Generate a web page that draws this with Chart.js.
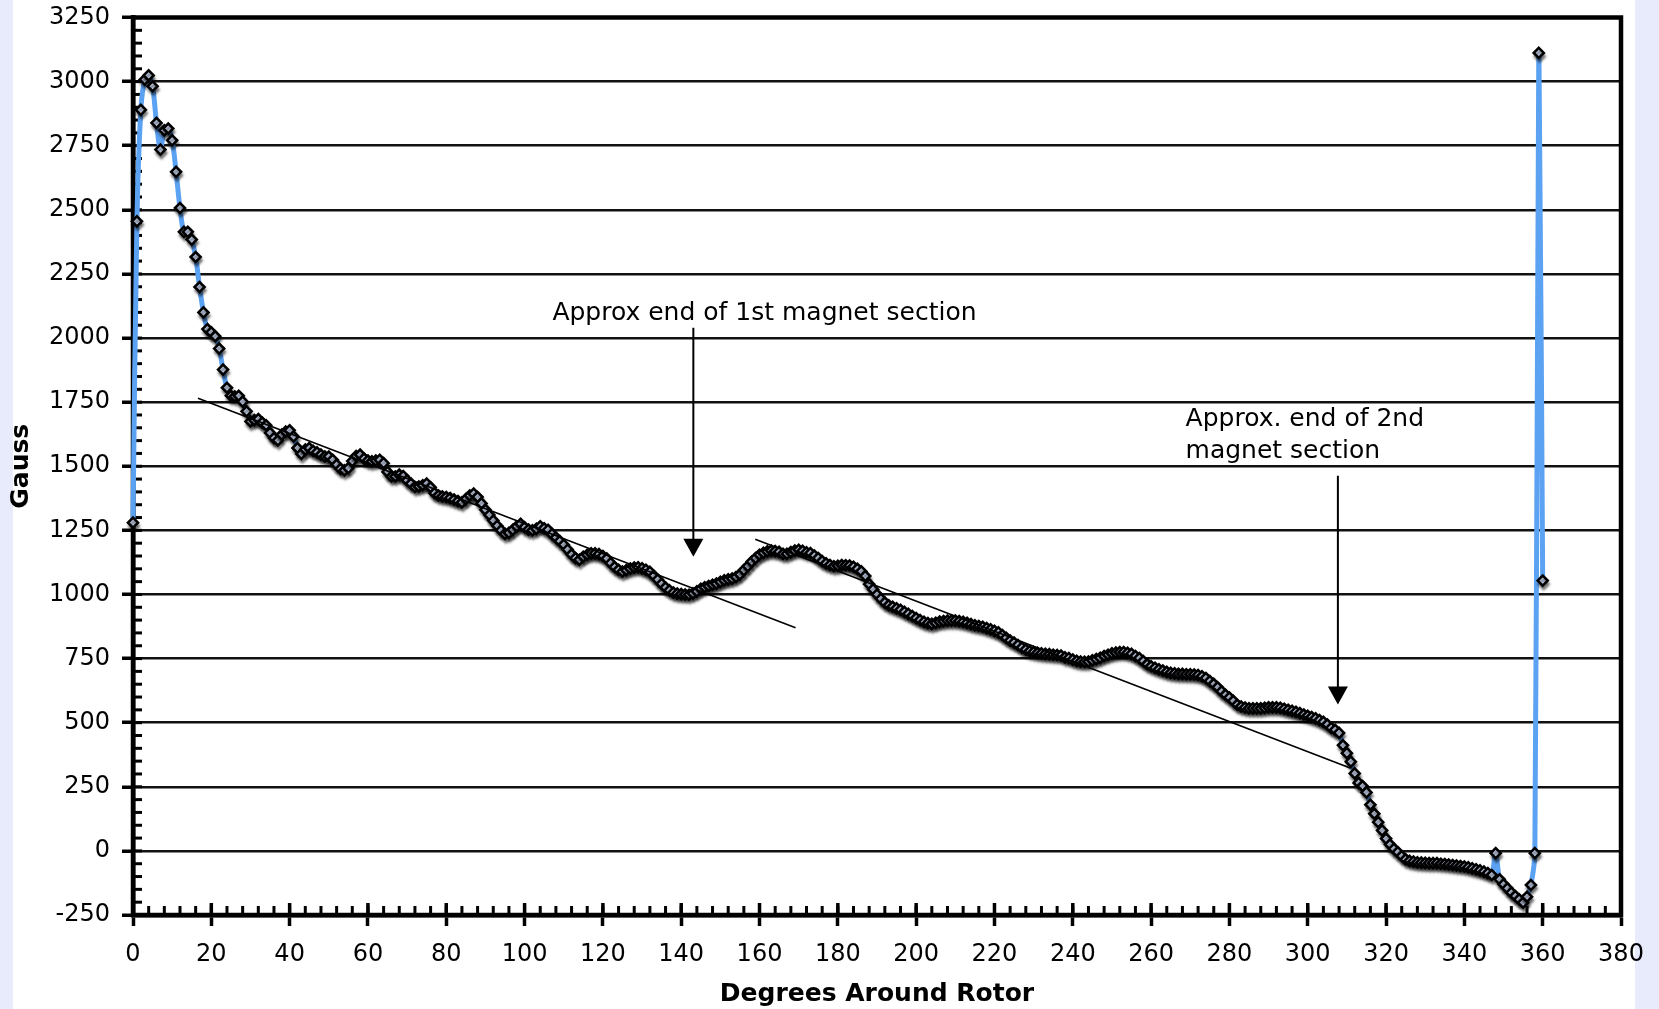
<!DOCTYPE html>
<html>
<head>
<meta charset="utf-8">
<title>Gauss around rotor</title>
<script src="https://cdn.jsdelivr.net/npm/chart.js@4.4.1/dist/chart.umd.min.js"></script>
<style>
  html, body { margin: 0; padding: 0; width: 1659px; height: 1009px; overflow: hidden; background: #E8EBFC; }
  #card { position: absolute; left: 13px; top: 0; width: 1622px; height: 1009px; background: #ffffff; }
  #chart { position: absolute; left: 0; top: 0; }
</style>
</head>
<body>
<div id="card"></div>
<canvas id="chart" width="1659" height="1009"></canvas>
<script>
// Measurement angle (degrees around the rotor)
const degrees = [
  0, 1, 2, 3, 4, 5, 6, 7, 8, 9, 10, 11, 12, 13, 14, 15, 16, 17, 18, 19,
  20, 21, 22, 23, 24, 25, 26, 27, 28, 29, 30, 31, 32, 33, 34, 35, 36, 37, 38, 39,
  40, 41, 42, 43, 44, 45, 46, 47, 48, 49, 50, 51, 52, 53, 54, 55, 56, 57, 58, 59,
  60, 61, 62, 63, 64, 65, 66, 67, 68, 69, 70, 71, 72, 73, 74, 75, 76, 77, 78, 79,
  80, 81, 82, 83, 84, 85, 86, 87, 88, 89, 90, 91, 92, 93, 94, 95, 96, 97, 98, 99,
  100, 101, 102, 103, 104, 105, 106, 107, 108, 109, 110, 111, 112, 113, 114, 115, 116, 117, 118, 119,
  120, 121, 122, 123, 124, 125, 126, 127, 128, 129, 130, 131, 132, 133, 134, 135, 136, 137, 138, 139,
  140, 141, 142, 143, 144, 145, 146, 147, 148, 149, 150, 151, 152, 153, 154, 155, 156, 157, 158, 159,
  160, 161, 162, 163, 164, 165, 166, 167, 168, 169, 170, 171, 172, 173, 174, 175, 176, 177, 178, 179,
  180, 181, 182, 183, 184, 185, 186, 187, 188, 189, 190, 191, 192, 193, 194, 195, 196, 197, 198, 199,
  200, 201, 202, 203, 204, 205, 206, 207, 208, 209, 210, 211, 212, 213, 214, 215, 216, 217, 218, 219,
  220, 221, 222, 223, 224, 225, 226, 227, 228, 229, 230, 231, 232, 233, 234, 235, 236, 237, 238, 239,
  240, 241, 242, 243, 244, 245, 246, 247, 248, 249, 250, 251, 252, 253, 254, 255, 256, 257, 258, 259,
  260, 261, 262, 263, 264, 265, 266, 267, 268, 269, 270, 271, 272, 273, 274, 275, 276, 277, 278, 279,
  280, 281, 282, 283, 284, 285, 286, 287, 288, 289, 290, 291, 292, 293, 294, 295, 296, 297, 298, 299,
  300, 301, 302, 303, 304, 305, 306, 307, 308, 309, 310, 311, 312, 313, 314, 315, 316, 317, 318, 319,
  320, 321, 322, 323, 324, 325, 326, 327, 328, 329, 330, 331, 332, 333, 334, 335, 336, 337, 338, 339,
  340, 341, 342, 343, 344, 345, 346, 347, 348, 349, 350, 351, 352, 353, 354, 355, 356, 357, 358, 359,
  360
];

// Flux density reading at each angle (Gauss)
const gauss = [
  1280, 2455, 2890, 3008, 3024, 2982, 2839, 2735, 2810, 2817,
  2771, 2648, 2507, 2414, 2414, 2384, 2316, 2199, 2100, 2035,
  2022, 2007, 1959, 1877, 1806, 1775, 1772, 1775, 1752, 1714,
  1675, 1680, 1684, 1670, 1660, 1630, 1610, 1601, 1623, 1635,
  1640, 1616, 1571, 1548, 1565, 1571, 1560, 1554, 1545, 1538,
  1538, 1525, 1506, 1490, 1484, 1493, 1520, 1540, 1545, 1530,
  1522, 1519, 1522, 1525, 1512, 1478, 1460, 1460, 1467, 1462,
  1445, 1432, 1419, 1421, 1426, 1432, 1418, 1395, 1386, 1382,
  1380, 1376, 1370, 1364, 1359, 1372, 1386, 1393, 1380, 1355,
  1330, 1310, 1288, 1268, 1250, 1236, 1240, 1252, 1265, 1275,
  1262, 1253, 1250, 1256, 1266, 1258, 1252, 1235, 1222, 1208,
  1194, 1175, 1156, 1142, 1135, 1147, 1155, 1160, 1160, 1157,
  1150, 1140, 1122, 1107, 1096, 1089, 1095, 1101, 1105, 1106,
  1102, 1096, 1088, 1073, 1058, 1041, 1027, 1016, 1007, 1003,
  1001, 1000, 999, 1004, 1012, 1022, 1028, 1033, 1038, 1042,
  1049, 1055, 1059, 1062, 1068, 1078, 1095, 1110, 1128, 1142,
  1155, 1162, 1168, 1171, 1169, 1166, 1158, 1158, 1165, 1171,
  1174, 1170, 1164, 1161, 1152, 1142, 1130, 1121, 1115, 1110,
  1112, 1115, 1114, 1113, 1108, 1100, 1090, 1072, 1040, 1020,
  1000, 983, 968, 958, 952, 946, 940, 932, 924, 916,
  908, 900, 893, 888, 885, 889, 894, 896, 898, 898,
  898, 896, 893, 889, 884, 880, 877, 874, 869, 864,
  858, 852, 842, 831, 820, 812, 803, 793, 785, 779,
  775, 772, 770, 768, 767, 765, 764, 762, 755, 752,
  746, 741, 738, 737, 738, 743, 748, 753, 760, 765,
  770, 773, 775, 775, 772, 768, 760, 752, 740, 728,
  720, 714, 708, 703, 698, 694, 692, 690, 690, 689,
  689, 688, 686, 681, 674, 662, 651, 638, 622, 609,
  598, 585, 570, 563, 559, 556, 556, 556, 556, 558,
  560, 560, 560, 558, 554, 550, 546, 542, 537, 532,
  527, 522, 517, 510, 503, 493, 480, 472, 460, 412,
  381, 348, 302, 265, 253, 228, 180, 145, 112, 80,
  48, 25, 8, -5, -20, -33, -39, -42, -45, -46,
  -47, -48, -48, -48, -50, -51, -53, -55, -57, -59,
  -61, -64, -68, -72, -76, -81, -87, -94, -9, -111,
  -130, -146, -163, -176, -189, -202, -179, -133, -9, 3112,
  1054
];

// Hand-drawn trend lines for the two magnet sections (end points, degrees / Gauss)
const trend1Deg = [16.6, 169.2];
const trend1Gauss = [1765, 870];
const trend2Deg = [158.9, 311.0];
const trend2Gauss = [1215, 322];

// Axis ranges and tick steps
const xRange = [0, 380];
const xMajorStep = 20;
const xMinorStep = 4;
const yRange = [-250, 3250];
const yMajorStep = 250;
const yMinorStep = 50;

// Callouts: text anchor and arrow, in degrees / Gauss
const noteTexts = [["Approx end of 1st magnet section"], ["Approx. end of 2nd", "magnet section"]];
const noteAnchorDeg = [107.1, 268.8];
const noteAnchorGauss = [2094, 1683];
const arrowDeg = [143.1, 307.7];
const arrowFromGauss = [2040, 1463];
const arrowToGauss = [1147, 571];

const toPoints = (xs, ys) => xs.map((v, i) => ({ x: v, y: ys[i] }));

Chart.defaults.font.family = "'DejaVu Sans', Verdana, sans-serif";
Chart.defaults.color = '#000';

// Frame, minor ticks, marker shadows and callouts
const rotorDecor = {
  id: 'rotorDecor',
  beforeDatasetsDraw(chart) {
    const { ctx, chartArea: a, scales: { x, y } } = chart;
    ctx.save();
    ctx.strokeStyle = '#000';
    ctx.lineCap = 'butt';
    // minor ticks (inside)
    ctx.lineWidth = 3;
    for (let v = yRange[0]; v <= yRange[1]; v += yMinorStep) {
      const py = y.getPixelForValue(v);
      ctx.beginPath(); ctx.moveTo(a.left, py); ctx.lineTo(a.left + 9, py); ctx.stroke();
    }
    for (let v = xRange[0]; v <= xRange[1]; v += xMinorStep) {
      const px = x.getPixelForValue(v);
      ctx.beginPath(); ctx.moveTo(px, a.bottom); ctx.lineTo(px, a.bottom - 9); ctx.stroke();
    }
    // major x ticks cross the axis
    ctx.lineWidth = 3.5;
    for (let v = xRange[0]; v <= xRange[1]; v += xMajorStep) {
      const px = x.getPixelForValue(v);
      ctx.beginPath(); ctx.moveTo(px, a.bottom); ctx.lineTo(px, a.bottom - 12); ctx.stroke();
    }
    // plot frame
    ctx.lineWidth = 4.5;
    ctx.strokeRect(a.left, a.top, a.right - a.left, a.bottom - a.top);
    ctx.restore();
  },
  beforeDatasetDraw(chart, args) {
    const ds = chart.data.datasets[args.index];
    if (ds.dropShadow) {
      const ctx = chart.ctx;
      ctx.save();
      ctx.shadowColor = 'rgba(0,0,0,0.45)';
      ctx.shadowOffsetX = 1;
      ctx.shadowOffsetY = 3.5;
      ctx.shadowBlur = 2.5;
    }
  },
  afterDatasetDraw(chart, args) {
    const ds = chart.data.datasets[args.index];
    if (ds.dropShadow) chart.ctx.restore();
  },
  afterDatasetsDraw(chart) {
    const { ctx, scales: { x, y } } = chart;
    ctx.save();
    ctx.fillStyle = '#000';
    ctx.strokeStyle = '#000';
    ctx.font = "25px 'DejaVu Sans', Verdana, sans-serif";
    ctx.textAlign = 'left';
    ctx.textBaseline = 'middle';
    noteTexts.forEach((lines, i) => {
      const px = x.getPixelForValue(noteAnchorDeg[i]);
      const py = y.getPixelForValue(noteAnchorGauss[i]);
      lines.forEach((t, k) => ctx.fillText(t, px, py + k * 32));
    });
    arrowDeg.forEach((d, i) => {
      const px = x.getPixelForValue(d);
      const y0 = y.getPixelForValue(arrowFromGauss[i]);
      const y1 = y.getPixelForValue(arrowToGauss[i]);
      const head = 18, half = 10;
      ctx.lineWidth = 2;
      ctx.beginPath(); ctx.moveTo(px, y0); ctx.lineTo(px, y1 - head + 1); ctx.stroke();
      ctx.beginPath();
      ctx.moveTo(px - half, y1 - head);
      ctx.lineTo(px + half, y1 - head);
      ctx.lineTo(px, y1);
      ctx.closePath();
      ctx.fill();
    });
    ctx.restore();
  }
};

new Chart(document.getElementById('chart'), {
  type: 'scatter',
  data: {
    datasets: [
      {
        label: 'Trend 1',
        data: toPoints(trend1Deg, trend1Gauss),
        showLine: true, borderColor: '#000', borderWidth: 1.6,
        pointRadius: 0, tension: 0, order: -1
      },
      {
        label: 'Trend 2',
        data: toPoints(trend2Deg, trend2Gauss),
        showLine: true, borderColor: '#000', borderWidth: 1.6,
        pointRadius: 0, tension: 0, order: -1
      },
      {
        label: 'Gauss markers',
        data: toPoints(degrees, gauss),
        showLine: false,
        pointStyle: 'rectRot', pointRadius: 5,
        pointBorderWidth: 2.6, pointBorderColor: '#000', pointBackgroundColor: '#d8e4ff',
        dropShadow: true, clip: false, order: 0
      },
      {
        label: 'Gauss',
        data: toPoints(degrees, gauss),
        showLine: true, borderColor: '#5CA2F2', borderWidth: 5,
        pointRadius: 0, tension: 0.35, clip: false, order: 1
      }
    ]
  },
  options: {
    responsive: false,
    animation: false,
    devicePixelRatio: 1,
    layout: { padding: { left: 0, right: 38, top: 17.5, bottom: 0 } },
    plugins: { legend: { display: false }, tooltip: { enabled: false } },
    scales: {
      x: {
        type: 'linear', min: xRange[0], max: xRange[1],
        afterFit(scale) { scale.height = 94; scale.paddingLeft = 0; scale.paddingRight = 0; },
        ticks: { stepSize: xMajorStep, font: { size: 24 }, padding: 14, color: '#000', maxRotation: 0,
                 callback: (v) => String(v) },
        grid: { drawOnChartArea: false, drawTicks: true, tickLength: 11, tickWidth: 3.5, tickColor: '#000' },
        border: { display: true, color: '#000', width: 4.5 },
        title: { display: true, text: 'Degrees Around Rotor', font: { size: 25, weight: 'bold' }, padding: { top: 0, bottom: 0 } }
      },
      y: {
        type: 'linear', min: yRange[0], max: yRange[1],
        afterFit(scale) { scale.width = 133; scale.paddingTop = 0; scale.paddingBottom = 0; },
        ticks: { stepSize: yMajorStep, font: { size: 24 }, padding: 12, color: '#000',
                 callback: (v) => String(v) },
        grid: { color: '#111', lineWidth: 2.5, drawTicks: true, tickLength: 11, tickWidth: 3.5, tickColor: '#000' },
        border: { display: true, color: '#000', width: 4.5 },
        title: { display: true, text: 'Gauss', font: { size: 25, weight: 'bold' }, padding: { top: 6, bottom: 0 } }
      }
    }
  },
  plugins: [rotorDecor]
});
</script>
</body>
</html>
